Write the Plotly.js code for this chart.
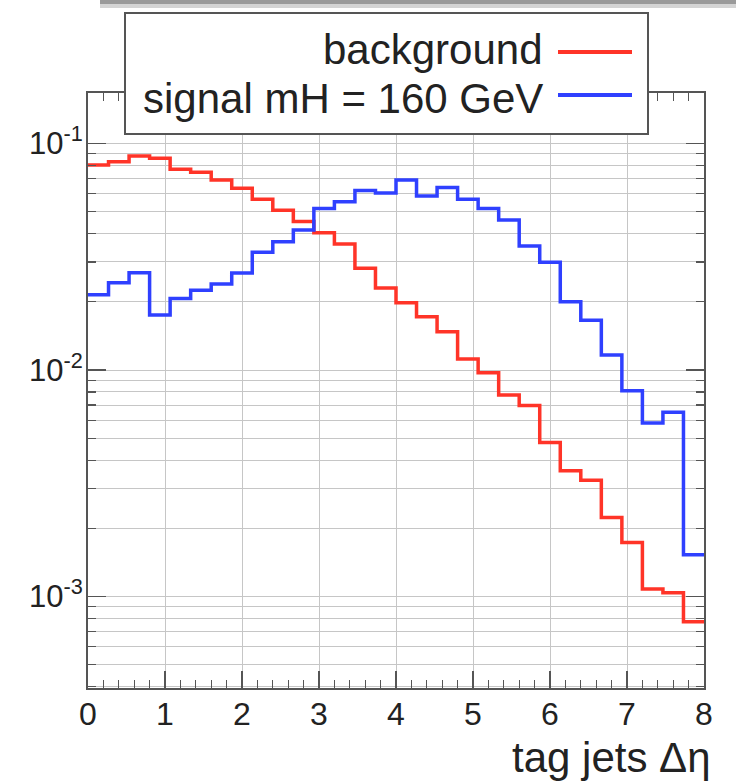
<!DOCTYPE html>
<html>
<head>
<meta charset="utf-8">
<script src="https://cdn.plot.ly/plotly-3.0.1.min.js"></script>
<style>html,body{margin:0;padding:0;background:#ffffff;}</style>
</head>
<body>
<div id="chart" style="width:736px;height:783px;"></div>
<script>
// ---- data ----
const xMin = 0;
const xMax = 8;
const nBins = 30;
const seriesNames = ['background', 'signal mH = 160 GeV'];
const background = [0.0804, 0.0831, 0.0881, 0.0861, 0.0769, 0.0746, 0.0690, 0.0634, 0.0567, 0.0508,
                    0.0452, 0.0404, 0.0360, 0.0281, 0.0230, 0.0198, 0.0172, 0.01476, 0.01118, 0.00973,
                    0.00775, 0.00697, 0.00478, 0.00359, 0.00326, 0.00223, 0.00173, 0.00108, 0.00104, 0.000774];
const signal = [0.0215, 0.0243, 0.0269, 0.0175, 0.0207, 0.0225, 0.0240, 0.0268, 0.0331, 0.0368,
                0.0415, 0.0517, 0.0553, 0.0620, 0.0605, 0.0690, 0.0586, 0.0639, 0.0567, 0.0517,
                0.0460, 0.0353, 0.0299, 0.0200, 0.0166, 0.01165, 0.00810, 0.00583, 0.00651, 0.00153];
const xTickVals = [0, 1, 2, 3, 4, 5, 6, 7, 8];
const yTickVals = [1e-3, 1e-2, 1e-1];
const yTickText = ['10<sup>-3</sup>', '10<sup>-2</sup>', '10<sup>-1</sup>'];
const yMinorMantissas = [2, 3, 4, 5, 6, 7, 8, 9];
const yMinorDecades = [1e-4, 1e-3, 1e-2, 1e-1];
const xTitle = 'tag jets Δη';

// ---- helpers ----
function stepXY(vals) {
  const w = (xMax - xMin) / nBins;
  const x = [], y = [];
  for (let i = 0; i < vals.length; i++) { x.push(xMin + i * w); y.push(vals[i]); }
  x.push(xMax); y.push(vals[vals.length - 1]);
  return {x, y};
}
const yMinorVals = [];
yMinorDecades.forEach(d => yMinorMantissas.forEach(m => yMinorVals.push(m * d)));

const W = 736, H = 783;
const M = {l: 88, r: 32, t: 93, b: 95};
const PW = W - M.l - M.r, PH = H - M.t - M.b;
const px = v => (v - M.l) / PW;
const py = v => (H - M.b - v) / PH;

const bg = stepXY(background);
const sg = stepXY(signal);
const RED = '#ff3428';
const BLUE = '#2f40ff';
const GRID = '#c6c6c6';
const AXIS = '#555555';
const FONT = 'Liberation Sans, Arial, Helvetica, sans-serif';

const traces = [
  {x: bg.x, y: bg.y, type: 'scatter', mode: 'lines', name: seriesNames[0],
   line: {shape: 'hv', color: RED, width: 3.5}},
  {x: sg.x, y: sg.y, type: 'scatter', mode: 'lines', name: seriesNames[1],
   line: {shape: 'hv', color: BLUE, width: 3.5}}
];

const layout = {
  width: W, height: H,
  margin: M,
  paper_bgcolor: '#ffffff', plot_bgcolor: '#ffffff',
  showlegend: false,
  font: {family: FONT, color: '#222222'},
  xaxis: {
    range: [xMin, xMax], tickmode: 'array', tickvals: xTickVals,
    ticks: 'inside', ticklen: 17, tickwidth: 1.2, tickcolor: AXIS,
    showline: true, linecolor: AXIS, linewidth: 2, mirror: 'ticks',
    showgrid: true, gridcolor: GRID, gridwidth: 1, zeroline: false,
    ticklabelstandoff: -3,
    tickfont: {size: 32, color: '#222222', family: FONT},
    minor: {dtick: 0.2, ticks: 'inside', ticklen: 8, tickwidth: 1.2, tickcolor: AXIS, showgrid: false}
  },
  yaxis: {
    type: 'log', range: [-3.404, -0.777], tickmode: 'array', tickvals: yTickVals, ticktext: yTickText,
    ticks: 'inside', ticklen: 18, tickwidth: 1.2, tickcolor: AXIS,
    showline: true, linecolor: AXIS, linewidth: 2, mirror: 'ticks',
    showgrid: true, gridcolor: GRID, gridwidth: 1, zeroline: false,
    ticklabelstandoff: -3,
    tickfont: {size: 31, color: '#222222', family: FONT},
    minor: {tickmode: 'array', tickvals: yMinorVals, ticks: 'inside', ticklen: 8, tickwidth: 1.2,
            tickcolor: AXIS, showgrid: true, gridcolor: GRID, gridwidth: 1}
  },
  shapes: [
    // window shadow strip at top
    {type: 'rect', xref: 'paper', yref: 'paper', x0: px(100), x1: px(736), y0: py(0), y1: py(4),
     fillcolor: '#9a9a9a', line: {width: 0}, layer: 'above'},
    {type: 'rect', xref: 'paper', yref: 'paper', x0: px(100), x1: px(736), y0: py(4), y1: py(8),
     fillcolor: '#d4d4d4', line: {width: 0}, layer: 'above'},
    // legend box
    {type: 'rect', xref: 'paper', yref: 'paper', x0: px(125), x1: px(648), y0: py(134), y1: py(13),
     fillcolor: '#ffffff', line: {color: AXIS, width: 2}, layer: 'above'},
    {type: 'line', xref: 'paper', yref: 'paper', x0: px(558), x1: px(632), y0: py(52), y1: py(52),
     line: {color: RED, width: 4}, layer: 'above'},
    {type: 'line', xref: 'paper', yref: 'paper', x0: px(558), x1: px(632), y0: py(95), y1: py(95),
     line: {color: BLUE, width: 4}, layer: 'above'}
  ],
  annotations: [
    {text: seriesNames[0], xref: 'paper', yref: 'paper', x: px(545), y: py(49),
     xanchor: 'right', yanchor: 'middle', showarrow: false, font: {size: 42, color: '#222222', family: FONT}},
    {text: seriesNames[1], xref: 'paper', yref: 'paper', x: px(545), y: py(99),
     xanchor: 'right', yanchor: 'middle', showarrow: false, font: {size: 42, color: '#222222', family: FONT}},
    {text: xTitle, xref: 'paper', yref: 'paper', x: px(713), y: py(757),
     xanchor: 'right', yanchor: 'middle', showarrow: false, font: {size: 42, color: '#222222', family: FONT}}
  ]
};

Plotly.newPlot('chart', traces, layout, {staticPlot: true, displayModeBar: false});
</script>
</body>
</html>
